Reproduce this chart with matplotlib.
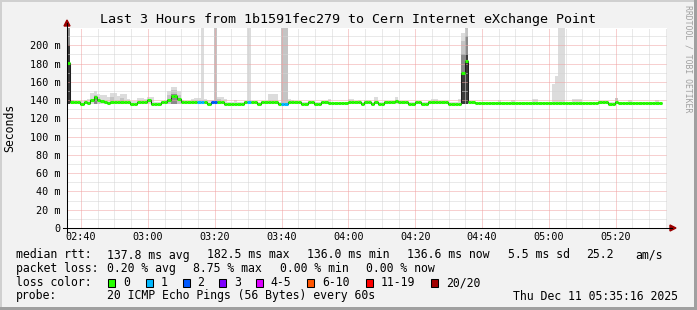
import numpy as np
import matplotlib
matplotlib.use("Agg")
import matplotlib.pyplot as plt
from matplotlib.patches import Rectangle, Polygon

# ---------------- data (one value per minute, 02:35:48 .. 05:33) ----------------
median_ms = [
    181.0, 137.7, 137.7, 137.7, 136.0, 137.7, 137.0, 140.0, 143.5, 139.8,
    139.0, 138.0, 137.3, 138.5, 138.5, 138.5, 137.7, 137.7, 137.7, 136.3,
    136.3, 138.5, 138.5, 138.5, 139.8, 136.3, 136.3, 136.3, 137.7, 137.7,
    140.5, 144.1, 144.1, 141.2, 137.7, 137.7, 137.7, 137.7, 137.7, 138.5,
    138.5, 137.7, 136.0, 137.7, 137.7, 137.7, 137.7, 136.3, 136.3, 136.3,
    136.3, 136.3, 136.3, 137.7, 137.7, 137.7, 137.7, 136.0, 137.7, 137.7,
    137.7, 137.7, 137.7, 136.3, 136.0, 136.0, 137.7, 137.7, 137.7, 137.7,
    136.0, 136.0, 137.7, 137.7, 136.0, 136.0, 137.7, 137.7, 136.5, 136.5,
    136.5, 136.5, 136.5, 136.5, 138.5, 137.7, 137.7, 138.5, 136.3, 138.5,
    138.5, 136.3, 138.5, 136.0, 136.0, 137.7, 137.7, 137.7, 139.5, 137.7,
    137.7, 137.7, 136.0, 136.0, 137.7, 137.7, 136.0, 136.0, 137.7, 137.7,
    137.7, 137.7, 137.7, 137.7, 136.0, 136.0, 136.0, 136.0, 170.2, 182.5,
    137.7, 137.7, 136.6, 136.6, 136.6, 136.6, 136.6, 136.6, 136.6, 136.6,
    136.6, 136.6, 136.6, 136.6, 136.6, 136.6, 136.6, 136.6, 136.6, 136.6,
    136.6, 136.6, 136.6, 136.6, 136.6, 136.6, 136.6, 136.6, 136.6, 136.6,
    136.6, 136.6, 136.6, 136.6, 136.6, 136.6, 136.6, 136.6, 136.6, 137.7,
    137.7, 137.7, 136.0, 136.0, 138.2, 136.6, 136.6, 136.6, 136.6, 136.6,
    136.6, 136.6, 136.6, 136.6, 136.6, 136.6, 136.6, 136.6,
]

# lightest smoke (slowest ping) per minute
smoke_max = [
    230.0, 140.0, 139.5, 139.5, 139.5, 140.5, 141.0, 148.0, 150.0, 147.0,
    145.5, 145.5, 143.0, 147.5, 147.5, 144.0, 146.8, 146.8, 141.0, 139.5,
    139.5, 142.0, 142.0, 141.0, 143.5, 143.5, 138.5, 138.5, 139.5, 140.5,
    150.0, 154.5, 154.5, 150.0, 140.0, 139.5, 139.5, 141.0, 142.0, 142.0,
    230.0, 141.0, 140.5, 140.0, 230.0, 143.0, 143.0, 141.0, 138.5, 138.5,
    140.5, 138.5, 138.5, 139.5, 230.0, 139.5, 139.5, 138.0, 139.5, 139.5,
    146.4, 146.4, 146.4, 138.5, 230.0, 230.0, 141.0, 140.0, 139.5, 139.5,
    138.0, 138.0, 139.5, 139.5, 138.0, 138.0, 139.5, 139.5, 141.0, 138.5,
    138.5, 138.5, 138.5, 138.5, 141.5, 141.5, 139.5, 140.0, 138.0, 140.0,
    140.0, 138.0, 143.5, 138.0, 138.0, 139.5, 139.5, 139.5, 143.5, 139.5,
    139.5, 139.5, 138.0, 138.0, 139.5, 139.5, 138.0, 138.0, 139.5, 141.0,
    141.0, 139.5, 139.5, 139.5, 138.0, 138.0, 138.0, 141.0, 213.0, 230.0,
    139.5, 139.5, 138.5, 138.5, 138.5, 138.5, 138.5, 138.5, 138.5, 140.5,
    138.5, 138.5, 138.5, 140.5, 138.5, 138.5, 138.5, 138.5, 138.5, 141.0,
    141.0, 138.5, 138.5, 138.5, 138.5, 157.4, 166.0, 230.0, 230.0, 138.5,
    138.5, 141.0, 141.0, 141.0, 138.5, 138.5, 138.5, 138.5, 138.5, 139.5,
    139.5, 139.5, 138.0, 138.0, 142.5, 138.5, 138.5, 138.5, 140.5, 138.5,
    138.5, 138.5, 138.5, 138.5, 138.5, 138.5, 140.5, 138.5,
]

# darker smoke layers (sparse)
mid_idx = [0, 8, 9, 13, 16, 30, 31, 32, 33, 44, 45, 64, 65, 118, 119, 164]
mid_top = [230, 146.0, 143.5, 143.0, 142.5, 146.0, 151.0, 151.0, 146.0,
           230, 141.5, 230, 230, 205.0, 230, 142.5]
dark_idx = [0, 8, 31, 32, 118, 119]
dark_top = [225.0, 144.0, 147.0, 147.0, 190.0, 210.0]
black_idx = [0, 118, 119]
black_top = [200.0, 168.0, 190.0]
SMOKE_FLOOR = 135.8

# lost pings (out of 20) per minute (sparse, zero elsewhere)
loss_idx = [39, 40, 43, 44, 54, 64, 65]
loss_cnt = [1, 1, 2, 2, 1, 1, 1]

loss_labels = ["0", "1", "2", "3", "4-5", "6-10", "11-19", "20/20"]
loss_colors = ["#26ff00", "#00b8ff", "#0059ff", "#7e00ff", "#dd00ff",
               "#ff5500", "#ff0000", "#a10000"]

x_tick_labels = ["02:40", "03:00", "03:20", "03:40", "04:00",
                 "04:20", "04:40", "05:00", "05:20"]
first_tick_min = 4.2          # minutes after left edge where 02:40 lies
y_tick_values = list(range(0, 201, 20))

title = "Last 3 Hours from 1b1591fec279 to Cern Internet eXchange Point"
rtt_items = ["137.8 ms avg", "182.5 ms max", "136.0 ms min",
             "136.6 ms now", "5.5 ms sd", "25.2", "am/s"]
loss_items = ["0.20 % avg", "8.75 % max", "0.00 % min", "0.00 % now"]
probe_text = "20 ICMP Echo Pings (56 Bytes) every 60s"
stamp_text = "Thu Dec 11 05:35:16 2025"

# ---------------- figure ----------------
W, H = 697, 310
MONO = "DejaVu Sans Mono"
plt.rcParams["font.family"] = [MONO]

fig = plt.figure(figsize=(W / 100, H / 100), dpi=100)
fig.patch.set_facecolor("#f2f2f2")

def fx(px):
    return px / W

def fy(py):
    return 1 - py / H

X0, X1, YB, YT = 67, 667.2, 228, 28
ax = fig.add_axes([fx(X0), fy(YB), (X1 - X0) / W, (YB - YT) / H])
ax.set_facecolor("white")
XMAX, YMAX = 179.6, 219.0
ax.set_xlim(0, XMAX)
ax.set_ylim(0, YMAX)
for s in ax.spines.values():
    s.set_visible(False)

n = len(median_ms)
idx = np.arange(n)
med = np.array(median_ms)

# smoke
ax.bar(idx, np.array(smoke_max) - SMOKE_FLOOR, bottom=SMOKE_FLOOR, width=1.0,
       align="edge", color="#dcdcdc", linewidth=0, zorder=1)
ax.bar(mid_idx, np.array(mid_top) - SMOKE_FLOOR, bottom=SMOKE_FLOOR, width=1.0,
       align="edge", color="#c4c4c4", linewidth=0, zorder=1.1)
ax.bar(dark_idx, np.array(dark_top) - SMOKE_FLOOR, bottom=SMOKE_FLOOR, width=1.0,
       align="edge", color="#8a8a8a", linewidth=0, zorder=1.2)
ax.bar(black_idx, np.array(black_top) - SMOKE_FLOOR, bottom=SMOKE_FLOOR, width=1.0,
       align="edge", color="#3a3a3a", linewidth=0, zorder=1.3)

# grid
minor_c, major_c = "#d4d4d4", "#f0a0a0"
dots = (0, (1, 1))
for v in range(10, 220, 10):
    c = major_c if v % 20 == 0 else minor_c
    ax.axhline(v, color=c, lw=0.72, ls=dots, zorder=1.5)
k = 0
t = first_tick_min
while t < XMAX:
    c = major_c if k % 4 == 0 else minor_c
    ax.axvline(t, color=c, lw=0.72, ls=dots, zorder=1.5)
    k += 1
    t = first_tick_min + 5 * k

# median line
ax.stairs(med, np.arange(n + 1), baseline=None, color="#202020", lw=0.75, zorder=2)
loss_full = np.zeros(n, dtype=int)
loss_full[loss_idx] = loss_cnt

def loss_class(c):
    if c == 0: return 0
    if c == 1: return 1
    if c == 2: return 2
    if c == 3: return 3
    if c <= 5: return 4
    if c <= 10: return 5
    if c <= 19: return 6
    return 7

cols = [loss_colors[loss_class(c)] for c in loss_full]
hl = ax.hlines(med, idx, idx + 1, colors=cols, lw=2.2, zorder=2.1)
hl.set_capstyle("butt")

# ticks
xt = [first_tick_min + 20 * i for i in range(len(x_tick_labels))]
ax.set_xticks(xt)
ax.set_xticklabels(x_tick_labels)
ax.set_yticks(y_tick_values)
ax.set_yticklabels(["0" if v == 0 else f"{v} m" for v in y_tick_values])
ax.tick_params(axis="both", length=0, labelsize=7.3)
ax.tick_params(axis="y", pad=4.6)
ax.tick_params(axis="x", pad=3.2)

# axes lines and arrows (pixel geometry in figure coords)
fig.add_artist(plt.Line2D([fx(X0 - 4), fx(672)], [fy(YB), fy(YB)],
                          color="black", lw=0.75))
fig.add_artist(plt.Line2D([fx(X0), fx(X0)], [fy(YB + 4), fy(23)],
                          color="black", lw=0.75))
arrow_c = "#9b0000"
fig.add_artist(Polygon([[fx(X0 - 3), fy(26)], [fx(X0 + 3), fy(26)], [fx(X0), fy(20)]],
                       closed=True, color=arrow_c, transform=fig.transFigure))
fig.add_artist(Polygon([[fx(670), fy(YB - 3)], [fx(670), fy(YB + 3)], [fx(676), fy(YB)]],
                       closed=True, color=arrow_c, transform=fig.transFigure))

# texts
fig.text(fx(348.5), fy(20), title, ha="center", va="center", fontsize=9.6)
fig.text(fx(10), fy(128), "Seconds", rotation=90, ha="center", va="center",
         fontsize=8.3)
fig.text(fx(688), fy(5), "RRDTOOL / TOBI OETIKER", rotation=270, ha="center",
         va="top", fontsize=5.9, color="#a0a0a0")

LF = 8.3
def t(px, py, s):
    fig.text(fx(px), fy(py), s, ha="left", va="center", fontsize=LF)

y1, y2, y3, y4 = 255, 268.5, 282.5, 296
t(16, y1, "median rtt:")
for px, s in zip([107, 207, 307, 407, 507.5, 586, 635], rtt_items):
    t(px, y1, s)
t(16, y2, "packet loss:")
for px, s in zip([107, 193, 279.5, 366], loss_items):
    t(px, y2, s)
t(16, y3, "loss color:")
box_x = [108, 146, 182.7, 219, 256, 307, 365.7, 430.7]
lab_x = [123, 160.7, 197, 234, 270.7, 322, 380.7, 445.7]
for bx, lx, c, s in zip(box_x, lab_x, loss_colors, loss_labels):
    fig.add_artist(Rectangle((fx(bx), fy(y3 + 4)), 7 / W, 8 / H, facecolor=c,
                             edgecolor="black", lw=0.75, transform=fig.transFigure))
    t(lx, y3, s)
t(16, y4, "probe:")
t(107, y4, probe_text)
t(513, y4, stamp_text)

# 3D frame
fig.add_artist(Rectangle((0, fy(2)), 1, 2 / H, facecolor="#d0d0d0", lw=0,
                         transform=fig.transFigure))
fig.add_artist(Rectangle((0, 0), 2 / W, 1, facecolor="#d0d0d0", lw=0,
                         transform=fig.transFigure))
fig.add_artist(Rectangle((0, 0), 1, 3 / H, facecolor="#a0a0a0", lw=0,
                         transform=fig.transFigure))
fig.add_artist(Rectangle((fx(694), 0), 3 / W, 1, facecolor="#a0a0a0", lw=0,
                         transform=fig.transFigure))

fig.savefig("out.png", dpi=100, facecolor=fig.get_facecolor())
